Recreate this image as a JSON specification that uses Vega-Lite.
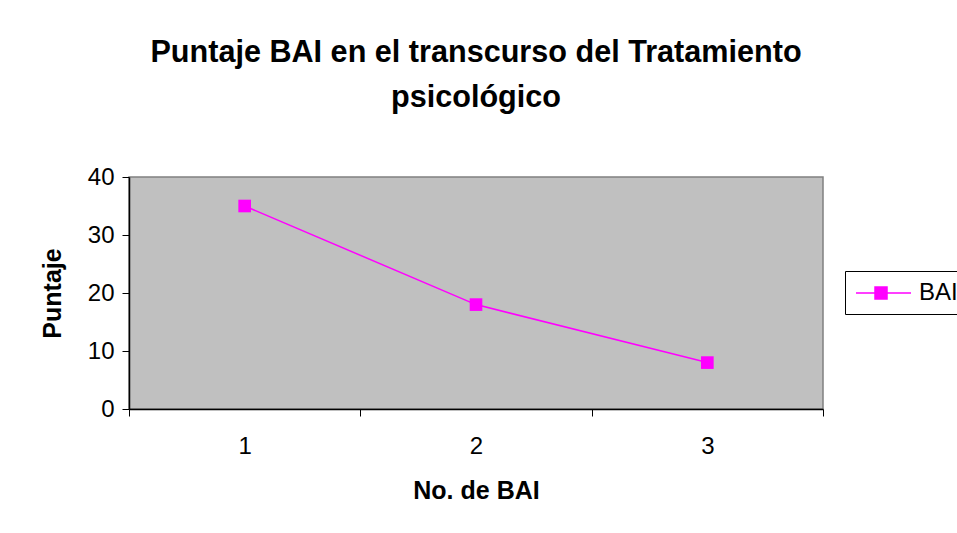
{
  "$schema": "https://vega.github.io/schema/vega-lite/v6.json",
  "width": 694,
  "height": 232,
  "autosize": {"type": "none"},
  "padding": {"left": 129, "top": 177, "right": 134, "bottom": 124},
  "background": "white",
  "title": {
    "text": ["Puntaje BAI en el transcurso del Tratamiento", "psicológico"],
    "font": "Liberation Sans",
    "fontSize": 30.6,
    "fontWeight": "bold",
    "color": "black",
    "lineHeight": 45,
    "anchor": "middle",
    "offset": 51
  },
  "data": {
    "values": [
      {"n": 1, "puntaje": 35, "serie": "BAI"},
      {"n": 2, "puntaje": 18, "serie": "BAI"},
      {"n": 3, "puntaje": 8, "serie": "BAI"}
    ]
  },
  "encoding": {
    "x": {
      "field": "n",
      "type": "quantitative",
      "scale": {"domain": [0.5, 3.5], "nice": false, "zero": false},
      "axis": {
        "title": "No. de BAI",
        "values": [0.5, 1, 1.5, 2, 2.5, 3, 3.5],
        "labelExpr": "datum.value % 1 == 0 ? format(datum.value, 'd') : ''",
        "tickOpacity": {"condition": {"test": "datum.value % 1 == 0", "value": 0}, "value": 1},
        "grid": false,
        "domainColor": "black",
        "domainWidth": 1.5,
        "tickColor": "black",
        "tickSize": 7,
        "labelFont": "Liberation Sans",
        "labelFontSize": 24,
        "labelColor": "black",
        "labelPadding": 18,
        "titleFont": "Liberation Sans",
        "titleFontSize": 25,
        "titleFontWeight": "bold",
        "titleColor": "black",
        "titlePadding": 20
      }
    },
    "y": {
      "field": "puntaje",
      "type": "quantitative",
      "scale": {"domain": [0, 40], "nice": false},
      "axis": {
        "title": "Puntaje",
        "values": [0, 10, 20, 30, 40],
        "grid": false,
        "domainColor": "black",
        "domainWidth": 1.5,
        "tickColor": "black",
        "tickSize": 7,
        "labelFont": "Liberation Sans",
        "labelFontSize": 24,
        "labelColor": "black",
        "labelPadding": 8,
        "titleFont": "Liberation Sans",
        "titleFontSize": 25,
        "titleFontWeight": "bold",
        "titleColor": "black",
        "titlePadding": 22
      }
    },
    "color": {
      "field": "serie",
      "type": "nominal",
      "scale": {"range": ["#FF00FF"]},
      "legend": {
        "title": null,
        "orient": "none",
        "legendX": 716,
        "legendY": 94,
        "strokeColor": "black",
        "fillColor": "white",
        "padding": 9,
        "symbolType": "M-0.917,0H3.667M0.667,-0.5H1.667V0.5H0.667Z",
        "symbolSize": 576,
        "symbolStrokeWidth": 1.5,
        "symbolFillColor": "#FF00FF",
        "symbolStrokeColor": "#FF00FF",
        "labelFont": "Liberation Sans",
        "labelFontSize": 24,
        "labelColor": "black",
        "labelOffset": 39
      }
    }
  },
  "layer": [
    {"mark": {"type": "line", "strokeWidth": 1.5}},
    {"mark": {"type": "point", "shape": "square", "filled": true, "size": 160, "opacity": 1}}
  ],
  "config": {
    "view": {"fill": "#C0C0C0", "stroke": "#808080", "strokeWidth": 1.5}
  }
}
